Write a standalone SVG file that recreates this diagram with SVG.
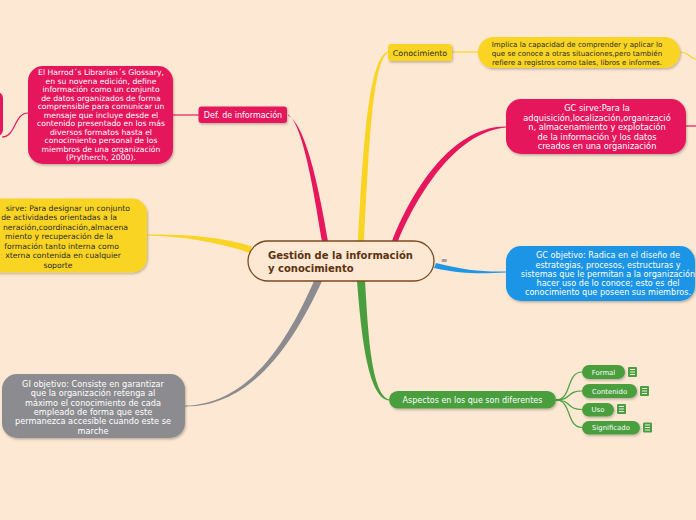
<svg xmlns="http://www.w3.org/2000/svg" width="696" height="520" viewBox="0 0 696 520">
<defs>
<filter id="sh" x="-10%" y="-20%" width="120%" height="150%">
<feDropShadow dx="1" dy="1.5" stdDeviation="1" flood-color="#000" flood-opacity="0.25"/>
</filter>
</defs>
<style>
text{font-family:"DejaVu Sans",Verdana,sans-serif}
.w{fill:#fff}
.d{fill:#2a2a2a}
.c{text-anchor:middle}
.red{fill:#e6175c}
.yel{fill:#f9d423}
.blu{fill:#1f95e6}
.gry{fill:#8c8c90}
.grn{fill:#4a9e3e}
.thin{fill:none;stroke-width:1.2}
</style>
<rect width="696" height="520" fill="#fde8d3"/>

<g id="connectors">
<path class="red" d="M322,241 C315,200 304,125 288,114.4 L288,115.6 C307,125 321,200 328,241 Z"/>
<path class="yel" d="M358,241 C363,150 368,58 388,51.5 L388,52.5 C372,62 369,150 364,241 Z"/>
<path class="red" d="M392,241 C417,178 458,126 506,126.4 L506,127.6 C462,131 423,182 398,241 Z"/>
<path class="yel" d="M252,246.5 C220,236 180,234 147,234.5 L147,235.5 C180,236 218,242 250,253 Z"/>
<path class="blu" d="M436,263 C465,270 480,272 506,271.5 L506,272.5 C480,274 462,274 434,268 Z"/>
<path class="gry" d="M314,281 C288,340 250,404 185,405.6 L185,406.4 C252,407 294,342 322,281 Z"/>
<path class="grn" d="M357,281 C361,330 367,398 389,400.5 L389,399.5 C371,394 368,330 365,281 Z"/>
<path class="thin" stroke="#e6175c" d="M199,115 L173,115"/>
<path class="thin" stroke="#e6175c" d="M28,113 C14,113 16,137 2,137"/>
<path class="thin" stroke="#f9d423" d="M452,52 L478,52"/>
<path class="thin" stroke="#f9d423" d="M680,52 C689,52 690,59 696,59"/>
<path class="thin" stroke="#e6175c" d="M686,126 L696,126"/>
<path class="thin" stroke="#4a9e3e" d="M556,400 C572,400 566,372 582,372"/>
<path class="thin" stroke="#4a9e3e" d="M556,400 C572,400 566,391 582,391"/>
<path class="thin" stroke="#4a9e3e" d="M556,400 C572,400 566,409.5 582,409.5"/>
<path class="thin" stroke="#4a9e3e" d="M556,400 C572,400 566,427.5 582,427.5"/>
</g>

<g id="center">
<rect x="248" y="241" width="186" height="40" rx="20" fill="#fde8d3" stroke="#7a4a20" stroke-width="1.3"/>
<text x="268" y="259" font-size="10" font-weight="bold" fill="#5a3210">Gestión de la información</text>
<text x="268" y="271.5" font-size="10" font-weight="bold" fill="#5a3210">y conocimiento</text>
<text x="444" y="263" font-size="8" fill="#666" class="c">≡</text>
</g>

<g id="def-informacion">
<rect class="red" x="198.5" y="106.5" width="88.5" height="16.5" rx="3" filter="url(#sh)"/>
<text class="w c" x="243" y="117.8" font-size="8">Def. de información</text>
</g>

<g id="harrod">
<rect class="red" x="28" y="66" width="145" height="98" rx="15" filter="url(#sh)"/>
<g class="w c" font-size="7.7">
<text x="101" y="75">El Harrod´s Librarian´s Glossary,</text>
<text x="101" y="83.5">en su novena edición, define</text>
<text x="101" y="92">información como un conjunto</text>
<text x="101" y="100.5">de datos organizados de forma</text>
<text x="101" y="109">comprensible para comunicar un</text>
<text x="101" y="117.5">mensaje que incluye desde el</text>
<text x="101" y="126">contenido presentado en los más</text>
<text x="101" y="134.5">diversos formatos hasta el</text>
<text x="101" y="143">conocimiento personal de los</text>
<text x="101" y="151.5">miembros de una organización</text>
<text x="101" y="160">(Prytherch, 2000).</text>
</g>
</g>

<g id="left-partial">
<rect class="red" x="-20" y="92" width="23" height="44" rx="6"/>
</g>

<g id="conocimiento">
<rect class="yel" x="388" y="44" width="64" height="17" rx="3" filter="url(#sh)"/>
<text class="d c" x="420" y="55.8" font-size="7.9">Conocimiento</text>
</g>

<g id="implica">
<rect class="yel" x="478" y="37" width="202" height="31" rx="15.5" filter="url(#sh)"/>
<g class="d c" font-size="7.1">
<text x="577" y="47.3">Implica la capacidad de comprender y aplicar lo</text>
<text x="577" y="56">que se conoce a otras situaciones,pero también</text>
<text x="577" y="64.5">refiere a registros como tales, libros e informes.</text>
</g>
</g>

<g id="gc-sirve">
<rect class="red" x="506" y="99" width="180" height="55" rx="15" filter="url(#sh)"/>
<g class="w c" font-size="8.25">
<text x="597" y="111">GC sirve:Para la</text>
<text x="597" y="120.6">adquisición,localización,organizació</text>
<text x="597" y="130.2">n, almacenamiento y explotación</text>
<text x="597" y="139.8">de la información y los datos</text>
<text x="597" y="149.4">creados en una organización</text>
</g>
</g>

<g id="gi-sirve">
<rect class="yel" x="-20" y="198.5" width="167" height="74" rx="15" filter="url(#sh)"/>
<g class="d" font-size="7.7" text-anchor="end">
<text x="130" y="211">sirve: Para designar un conjunto</text>
<text x="117" y="220.4">de actividades orientadas a la</text>
<text x="128" y="229.9">neración,coordinación,almacena</text>
<text x="113" y="239.3">miento y recuperación de la</text>
<text x="119" y="248.8">formación tanto interna como</text>
<text x="121" y="258.2">xterna contenida en cualquier</text>
<text x="58" y="267.7" text-anchor="middle">soporte</text>
</g>
</g>

<g id="gc-objetivo">
<rect class="blu" x="506" y="246" width="189" height="55" rx="15" filter="url(#sh)"/>
<g class="w c" font-size="8.1">
<text x="608" y="258.3">GC objetivo: Radica en el diseño de</text>
<text x="608" y="267.5">estrategias, procesos, estructuras y</text>
<text x="608" y="276.8">sistemas que le permitan a la organización</text>
<text x="608" y="286">hacer uso de lo conoce; esto es del</text>
<text x="608" y="295.3">conocimiento que poseen sus miembros.</text>
</g>
</g>

<g id="gi-objetivo">
<rect class="gry" x="2" y="374" width="183" height="64" rx="15" filter="url(#sh)"/>
<g class="w c" font-size="8.2">
<text x="93" y="387">GI objetivo: Consiste en garantizar</text>
<text x="93" y="396.3">que la organización retenga al</text>
<text x="93" y="405.6">máximo el conocimiento de cada</text>
<text x="93" y="415">empleado de forma que este</text>
<text x="93" y="424.3">permanezca accesible cuando este se</text>
<text x="93" y="433.6">marche</text>
</g>
</g>

<g id="aspectos">
<rect class="grn" x="389" y="391" width="167" height="17.5" rx="8.75" filter="url(#sh)"/>
<text class="w c" x="472.5" y="402.8" font-size="8">Aspectos en los que son diferentes</text>
</g>

<g id="formal">
<rect class="grn" x="582" y="365" width="43" height="14" rx="7" filter="url(#sh)"/>
<text class="w c" x="603.5" y="374.6" font-size="6.9">Formal</text>
<rect class="grn" x="628" y="367" width="9" height="10" rx="1"/>
<path d="M630,369.5h5M630,372h5M630,374.5h5" stroke="#fff" stroke-width="0.9"/>
</g>

<g id="contenido">
<rect class="grn" x="582" y="384" width="55" height="14" rx="7" filter="url(#sh)"/>
<text class="w c" x="609.5" y="393.6" font-size="6.9">Contenido</text>
<rect class="grn" x="640" y="386" width="9" height="10" rx="1"/>
<path d="M642,388.5h5M642,391h5M642,393.5h5" stroke="#fff" stroke-width="0.9"/>
</g>

<g id="uso">
<rect class="grn" x="582" y="403" width="32" height="13.5" rx="6.75" filter="url(#sh)"/>
<text class="w c" x="598" y="412.4" font-size="6.9">Uso</text>
<rect class="grn" x="617" y="404" width="9" height="10" rx="1"/>
<path d="M619,406.5h5M619,409h5M619,411.5h5" stroke="#fff" stroke-width="0.9"/>
</g>

<g id="significado">
<rect class="grn" x="582" y="421" width="58" height="13.5" rx="6.75" filter="url(#sh)"/>
<text class="w c" x="611" y="430.4" font-size="6.9">Significado</text>
<rect class="grn" x="643" y="422.5" width="9" height="10" rx="1"/>
<path d="M645,425h5M645,427.5h5M645,430h5" stroke="#fff" stroke-width="0.9"/>
</g>
</svg>
